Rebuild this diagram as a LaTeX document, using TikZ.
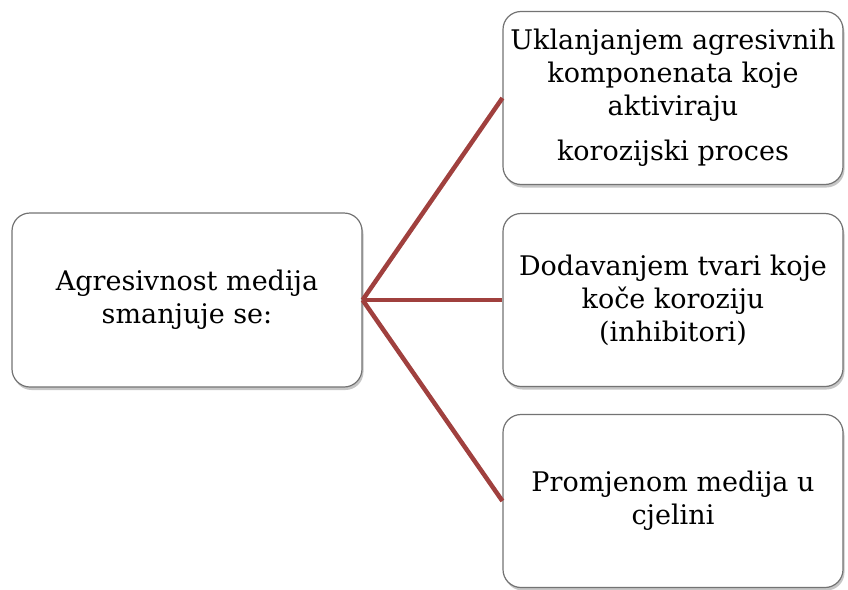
\documentclass[tikz,border=0pt]{standalone}
\usepackage{fontspec}
\setmainfont{DejaVu Serif}
\usepackage{tikz}
\usetikzlibrary{shadows}
\definecolor{linkred}{RGB}{160,64,62}

\begin{document}
\begin{tikzpicture}[x=1pt, y=-1pt,
        box/.style={draw=black!55, line width=1.2pt, fill=white, rounded corners=18pt,
            minimum width=340pt, minimum height=173pt, align=center,
            font=\fontsize{27}{33}\selectfont,
            drop shadow={shadow xshift=1.5pt, shadow yshift=-3pt, opacity=.45}},
        link/.style={draw=linkred, line width=4.5pt}]
        \useasboundingbox (0,0) rectangle (848,589);
        \node[box, minimum width=350pt, minimum height=174pt] (agr) at (187,300) {Agresivnost medija\\smanjuje se:};
        \node[box] (ukl) at (673,98) {Uklanjanjem agresivnih\\komponenata koje\\aktiviraju\\[12pt]korozijski proces};
        \node[box] (dod) at (673,300) {Dodavanjem tvari koje\\koče koroziju\\(inhibitori)};
        \node[box] (pro) at (673,501) {Promjenom medija u\\cjelini};
        \foreach \n in {ukl, dod, pro} {
                \draw[link] (agr.east) -- (\n.west);
            }
    \end{tikzpicture}
\end{document}
